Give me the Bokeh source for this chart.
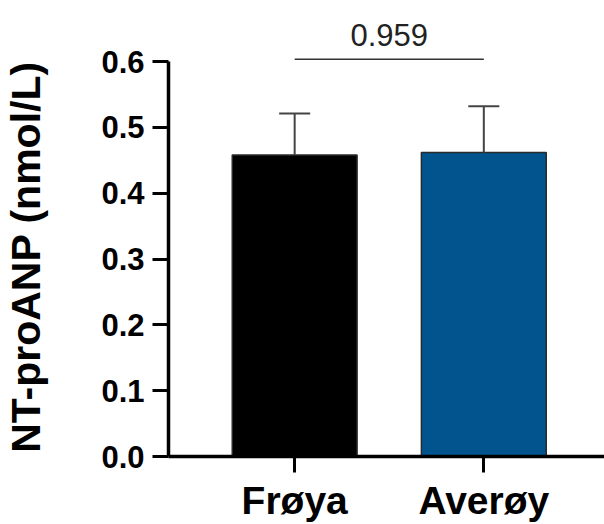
from bokeh.plotting import figure
from bokeh.models import (ColumnDataSource, Range1d, FixedTicker, PrintfTickFormatter,
                          Whisker, TeeHead, LinearAxis)
from bokeh.embed import file_html
from bokeh.resources import INLINE

# ---- data ----
categories = ["Frøya", "Averøy"]
means = [0.458, 0.462]
sds = [0.063, 0.070]
colors = ["#000000", "#02548F"]
p_value_label = "0.959"
y_ticks = [0.0, 0.1, 0.2, 0.3, 0.4, 0.5, 0.6]
y_label = "NT-proANP (nmol/L)"

xpos = [i + 1 for i in range(len(categories))]
src = ColumnDataSource(dict(
    x=xpos, top=means, color=colors,
    lower=means, upper=[m + s for m, s in zip(means, sds)],
))

FONT = "Liberation Sans"

p = figure(width=604, height=524,
           x_range=Range1d(0.333, 2.638), y_range=Range1d(0, 0.6062),
           output_backend="svg", toolbar_location=None,
           min_border_left=166, min_border_right=0, min_border_top=57,
           min_border_bottom=66)
p.outline_line_color = None
p.xgrid.grid_line_color = None
p.ygrid.grid_line_color = None
p.background_fill_color = "white"
p.border_fill_color = "white"

# grab the default axes before adding any extra axis
xa = p.below[0]
ya = p.left[0]

p.vbar(x="x", top="top", width=0.66, source=src, fill_color="color",
       line_color="#2a2a2a", line_width=1.5)

w = Whisker(source=src, base="x", lower="lower", upper="upper", dimension="height",
            line_color="#444444", line_width=2, lower_head=None,
            upper_head=TeeHead(size=31, line_color="#444444", line_width=2),
            level="overlay")
p.add_layout(w)

# significance bracket between the two groups
bracket_y = 0.6036
p.segment(x0=[xpos[0]], x1=[xpos[1]], y0=[bracket_y], y1=[bracket_y],
          line_color="#333333", line_width=1.5)

# p-value label above the bracket, at the midpoint of the two groups
mid = sum(xpos) / len(xpos)
top_axis = LinearAxis(ticker=FixedTicker(ticks=[mid]),
                      major_label_overrides={mid: p_value_label},
                      axis_line_color=None, major_tick_line_color=None,
                      minor_tick_line_color=None, major_tick_in=0, major_tick_out=0,
                      minor_tick_in=0, minor_tick_out=0,
                      major_label_standoff=12,
                      major_label_text_font=FONT, major_label_text_font_style="normal",
                      major_label_text_font_size="31px", major_label_text_color="#222222")
p.add_layout(top_axis, "above")

# y axis
ya.ticker = FixedTicker(ticks=y_ticks)
ya.formatter = PrintfTickFormatter(format="%.1f")
ya.bounds = (0, 0.6)
ya.axis_label = y_label
ya.axis_label_text_font = FONT
ya.axis_label_text_font_style = "bold"
ya.axis_label_text_font_size = "41px"
ya.axis_label_text_color = "black"
ya.axis_label_standoff = 49
ya.major_label_text_font = FONT
ya.major_label_text_font_style = "bold"
ya.major_label_text_font_size = "31px"
ya.major_label_text_color = "black"
ya.major_label_standoff = 8
ya.axis_line_width = 3.5
ya.axis_line_color = "black"
ya.major_tick_line_width = 3
ya.major_tick_line_color = "black"
ya.major_tick_in = 0
ya.major_tick_out = 16
ya.minor_tick_line_color = None

# x axis (bottom)
xa.ticker = FixedTicker(ticks=xpos)
xa.major_label_overrides = {x: c for x, c in zip(xpos, categories)}
xa.major_label_text_font = FONT
xa.major_label_text_font_style = "bold"
xa.major_label_text_font_size = "39px"
xa.major_label_text_color = "black"
xa.major_label_standoff = 6
xa.axis_line_width = 3.5
xa.axis_line_color = "black"
xa.major_tick_line_width = 3
xa.major_tick_line_color = "black"
xa.major_tick_in = 0
xa.major_tick_out = 16
xa.minor_tick_line_color = None

open("out.html", "w").write(file_html(p, INLINE))
